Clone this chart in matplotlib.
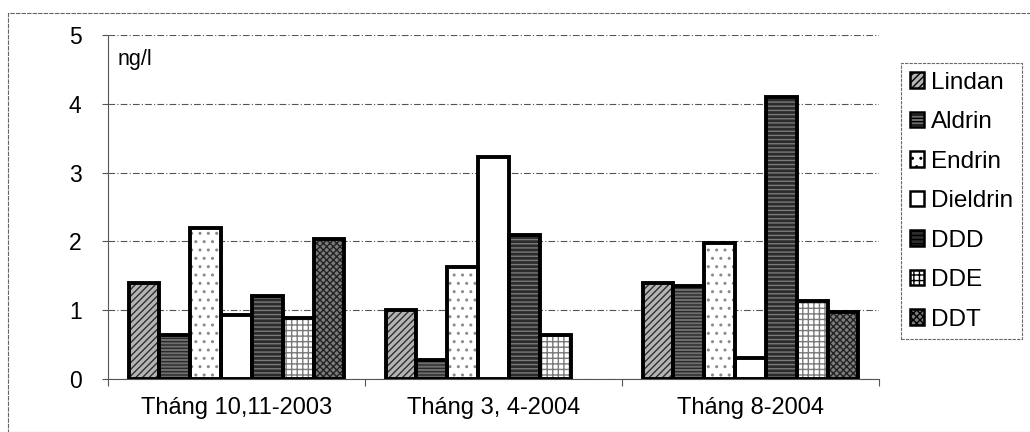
import matplotlib

matplotlib.use("Agg")
import matplotlib.pyplot as plt
import numpy as np
from matplotlib.patches import Rectangle

plt.rcParams["font.family"] = ["Liberation Sans", "DejaVu Sans"]
plt.rcParams["hatch.linewidth"] = 1.0

# data (ng/l)
periods = ["Tháng 10,11-2003", "Tháng 3, 4-2004", "Tháng 8-2004"]
compounds = ["Lindan", "Aldrin", "Endrin", "Dieldrin", "DDD", "DDE", "DDT"]
lindan = [1.40, 1.00, 1.40]
aldrin = [0.64, 0.28, 1.35]
endrin = [2.20, 1.63, 1.98]
dieldrin = [0.93, 3.22, 0.30]
ddd = [1.20, 2.09, 4.10]
dde = [0.88, 0.64, 1.13]
ddt = [2.03, 0.0, 0.98]
y_ticks = [0, 1, 2, 3, 4, 5]

series = [lindan, aldrin, endrin, dieldrin, ddd, dde, ddt]

# (face colour, hatch, hatch colour) imitating the scanned fill patterns
fills = [
    ("#b4b4b4", "/////", "#2e2e2e"),
    ("#6e6e6e", "-----", "#2a2a2a"),
    ("#ffffff", "..", "#8a8a8a"),
    ("#ffffff", "", "#ffffff"),
    ("#2c2c2c", "----", "#7a7a7a"),
    ("#ffffff", "+++", "#7a7a7a"),
    ("#7c7c7c", "xxxxx", "#222222"),
]

BAR_W = 0.12

fig = plt.figure(figsize=(10.30, 4.32), dpi=100)
ax = fig.add_axes([108 / 1030, 1 - 379 / 432, 771 / 1030, 344 / 432])

x = np.arange(len(periods))
handles = []
for i, (name, values) in enumerate(zip(compounds, series)):
    face, hatch, hcolor = fills[i]
    pos = x + (i - 3) * BAR_W
    vals = np.asarray(values, dtype=float)
    keep = vals > 0
    ax.bar(pos[keep], vals[keep], width=BAR_W, color=face, hatch=hatch,
           edgecolor=hcolor, linewidth=0, zorder=3)
    ax.bar(pos[keep], vals[keep], width=BAR_W, fill=False,
           edgecolor="black", linewidth=2.8, zorder=4)
    handles.append(Rectangle((0, 0), 1, 1, facecolor=face, hatch=hatch,
                             edgecolor="black", linewidth=1.8))

ax.set_xlim(-0.5, 2.5)
ax.set_ylim(0, 5)
ax.set_yticks(y_ticks)
ax.set_yticklabels([str(t) for t in y_ticks], fontsize=16.5)
ax.set_xticks(x)
ax.set_xticklabels(periods, fontsize=17)
ax.set_xticks([-0.5, 0.5, 1.5, 2.5], minor=True)
ax.tick_params(axis="x", which="major", length=0, pad=13)
ax.tick_params(axis="x", which="minor", length=5, color="#555555", width=0.8)
ax.tick_params(axis="y", length=4, color="#555555", width=0.8, pad=15)

ax.grid(axis="y", color="#555555", linestyle=(0, (6, 2, 1, 2)), linewidth=0.8, zorder=0)
for side in ("top", "right"):
    ax.spines[side].set_visible(False)
for side in ("left", "bottom"):
    ax.spines[side].set_color("#555555")
    ax.spines[side].set_linewidth(0.8)
    ax.spines[side].set_linestyle((0, (4, 1)))

ax.text(0.013, 0.958, "ng/l", transform=ax.transAxes, fontsize=15.5, va="top", ha="left")

leg = fig.legend(handles, compounds, loc="upper left",
                 bbox_to_anchor=(901 / 1030, 1 - 63 / 432), fontsize=17.5,
                 frameon=True, fancybox=False, handlelength=0.6, handleheight=0.6,
                 handletextpad=0.3, labelspacing=0.72, borderpad=0.35,
                 borderaxespad=0.0)
frame = leg.get_frame()
frame.set_edgecolor("#444444")
frame.set_linewidth(0.8)
frame.set_linestyle((0, (3, 1)))

# faint outer frame of the scanned chart
fig.patches.append(Rectangle((8 / 1030, 0), 1.2, 1 - 13 / 432, transform=fig.transFigure,
                             fill=False, edgecolor="#666666", linewidth=0.8,
                             linestyle=(0, (4, 1))))

fig.savefig("out.png", dpi=100)
